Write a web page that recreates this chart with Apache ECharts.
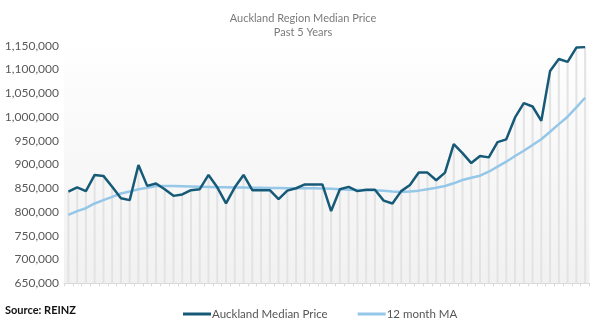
<!DOCTYPE html>
<html>
<head>
<meta charset="utf-8">
<script src="https://cdn.jsdelivr.net/npm/echarts@6/dist/echarts.min.js"></script>
<style>
html,body{margin:0;padding:0;background:#fff;}
#chart{width:602px;height:323px;}
</style>
</head>
<body>
<div id="chart"></div>
<script>
var months = [];
(function(){
  var names = ['Jan','Feb','Mar','Apr','May','Jun','Jul','Aug','Sep','Oct','Nov','Dec'];
  var m = 3, y = 2016;
  for (var i = 0; i < 60; i++) { months.push(names[m] + '-' + String(y).slice(2)); m++; if (m === 12) { m = 0; y++; } }
})();

var medianPrice = [843000, 852000, 844000, 878000, 876000, 853000, 829000, 825000, 899000, 855000,
  860000, 848000, 834000, 837000, 846000, 848000, 878000, 852000, 818000, 852000,
  878000, 846000, 846000, 846000, 827000, 845000, 850000, 858000, 858000, 858000,
  802000, 848000, 853000, 844000, 847000, 847000, 824000, 818000, 844000, 857000,
  883000, 883000, 867000, 883000, 943000, 924000, 903000, 918000, 915000, 947000,
  953000, 999000, 1029000, 1022000, 992000, 1097000, 1122000, 1116000, 1146000, 1147000];

var movingAvg = [794000, 802000, 808000, 818000, 825000, 832000, 839000, 843000, 848000, 851000,
  854500, 855000, 854500, 854000, 853500, 853000, 852500, 852000, 852000, 851500,
  851500, 851000, 851000, 850500, 850500, 850000, 850000, 850000, 850000, 849500,
  849000, 848000, 847000, 846500, 846000, 846000, 845000, 843000, 842000, 843000,
  845000, 848000, 851000, 854700, 860400, 867300, 872200, 876400, 884800, 895400,
  905900, 917800, 929000, 941000, 953000, 969000, 985000, 1000600, 1020300, 1040500];

var yTicks = [650000, 1150000, 50000];

var chart = echarts.init(document.getElementById('chart'));
var FONT = 'Lato, "Open Sans", sans-serif';
chart.setOption({
  animation: false,
  backgroundColor: '#ffffff',
  title: {
    text: 'Auckland Region Median Price\nPast 5 Years',
    left: 298, top: 6, textAlign: 'center',
    textStyle: { fontSize: 11, fontWeight: 'normal', color: '#7a7a7a', lineHeight: 14, fontFamily: FONT }
  },
  grid: {
    left: 64, right: 12.5, top: 45.7, bottom: 39.7, show: true, borderWidth: 0,
    backgroundColor: new echarts.graphic.LinearGradient(0, 0, 0, 1, [
      { offset: 0, color: '#ffffff' },
      { offset: 0.15, color: '#fcfcfc' },
      { offset: 1, color: '#f1f1f1' }
    ])
  },
  legend: {
    left: 178, top: 303,
    icon: 'rect', itemWidth: 28, itemHeight: 3, itemGap: 30,
    textStyle: { fontSize: 11.5, color: '#555555', fontFamily: FONT, padding: [0, 0, 0, -4] },
    data: ['Auckland Median Price', '12 month MA']
  },
  graphic: [{
    type: 'text', left: 5, top: 305,
    style: { text: 'Source: REINZ', fontSize: 11, fontWeight: 'bold', fill: '#111111', fontFamily: FONT }
  }],
  xAxis: {
    type: 'category', data: months, boundaryGap: true,
    axisLine: { lineStyle: { color: '#d9d9d9', width: 1 } },
    axisTick: { show: true, interval: 0, length: 3, lineStyle: { color: '#d9d9d9' } },
    axisLabel: { show: false },
    splitLine: { show: false }
  },
  yAxis: {
    type: 'value', min: yTicks[0], max: yTicks[1], interval: yTicks[2],
    axisLine: { show: false }, axisTick: { show: false },
    splitLine: { show: false },
    axisLabel: {
      fontSize: 12, color: '#595959', margin: 5, fontFamily: FONT,
      formatter: function (v) { return v.toLocaleString('en-US'); }
    }
  },
  series: [
    {
      name: 'drop', type: 'bar', data: medianPrice, barWidth: 2, silent: true,
      itemStyle: { color: '#e3e3e3' }, z: 1, legendHoverLink: false
    },
    {
      name: 'Auckland Median Price', type: 'line', data: medianPrice,
      symbol: 'none', lineStyle: { color: '#175a78', width: 2.5 }, itemStyle: { color: '#175a78' }, z: 4
    },
    {
      name: '12 month MA', type: 'line', data: movingAvg,
      symbol: 'none', lineStyle: { color: '#95c7e9', width: 2.5 }, itemStyle: { color: '#95c7e9' }, z: 3
    }
  ]
});
</script>
</body>
</html>
